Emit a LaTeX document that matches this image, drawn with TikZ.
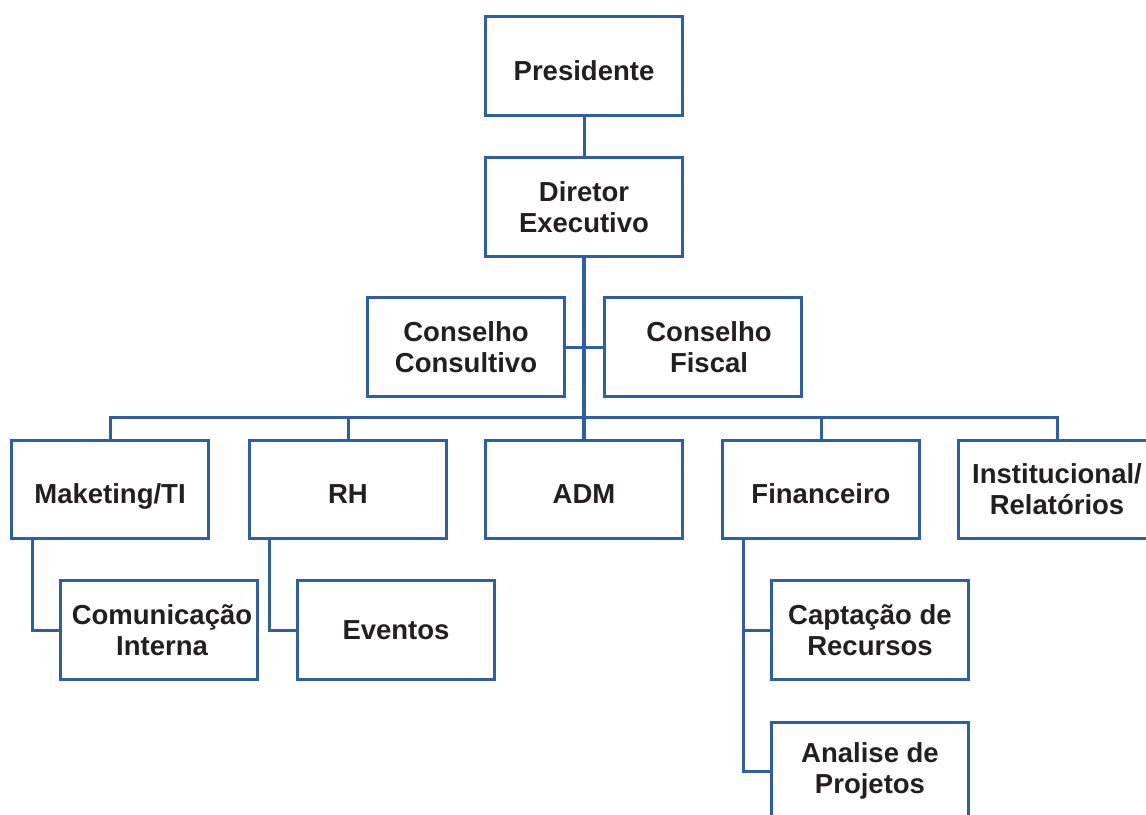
\documentclass[tikz,border=0pt]{standalone}
\usepackage{fontspec}
\setmainfont{Liberation Sans}
\definecolor{orgblue}{RGB}{46,94,170}
\definecolor{txt}{RGB}{35,31,32}
\tikzset{
  box/.style={draw=orgblue, line width=3pt, fill=white, minimum width=197pt, minimum height=99pt,
    align=center, inner sep=0pt, text=txt, font=\bfseries\fontsize{27.5}{31}\selectfont},
  lowtext/.style={text height=28pt, text depth=0pt},
  link/.style={draw=orgblue, line width=3pt, line join=miter},
  mainlink/.style={draw=orgblue, line width=4.5pt}
}
\begin{document}
\begin{tikzpicture}[x=1pt,y=-1pt]
\useasboundingbox (0,0) rectangle (1146,814);
\coordinate (bus) at (584,417);
\node[box, lowtext] (pres) at (584,66) {Presidente};
\node[box] (dir) at (584,207) {Diretor\\Executivo};
\node[box] (cc) at (466,347) {Conselho\\Consultivo};
\node[box] (cf) at (703,347) {\hspace*{12pt}Conselho\\\hspace*{12pt}Fiscal};
\node[box, lowtext, minimum height=98pt] (mk) at (110,489) {Maketing/TI};
\node[box, lowtext, minimum height=98pt] (rh) at (348,489) {RH};
\node[box, lowtext, minimum height=98pt] (adm) at (584,489) {ADM};
\node[box, lowtext, minimum height=98pt] (fin) at (821,489) {Financeiro};
\node[box, minimum height=98pt] (inst) at (1057,489) {Institucional/\\Relatórios};
\node[box] (com) at (159,630) {\hspace*{6pt}Comunicação\\\hspace*{6pt}Interna};
\node[box] (evt) at (396,630) {Eventos};
\node[box] (cap) at (870,630) {Captação de\\Recursos};
\node[box, minimum height=98pt] (ana) at (870,771) {Analise de\\Projetos};
\coordinate (mkb) at ([xshift=-78pt]mk.south);
\coordinate (rhb) at ([xshift=-79pt]rh.south);
\coordinate (finb) at ([xshift=-78pt]fin.south);
% connectors
\draw[link] (pres.south) -- (dir.north);
\draw[mainlink] (dir.south) -- (adm.north);
\draw[link] (cc.east) -- (cc.east -| dir.south);
\draw[link] (cf.west) -- (cf.west -| dir.south);
\draw[link] (mk.north) |- (bus) -| (inst.north);
\draw[link] (rh.north) -- (rh.north |- bus);
\draw[link] (fin.north) -- (fin.north |- bus);
\draw[link] (mkb) |- (com.west);
\draw[link] (rhb) |- (evt.west);
\draw[link] (finb) |- (ana.west);
\draw[link] (cap.west) -- (cap.west -| finb);
\end{tikzpicture}
\end{document}
